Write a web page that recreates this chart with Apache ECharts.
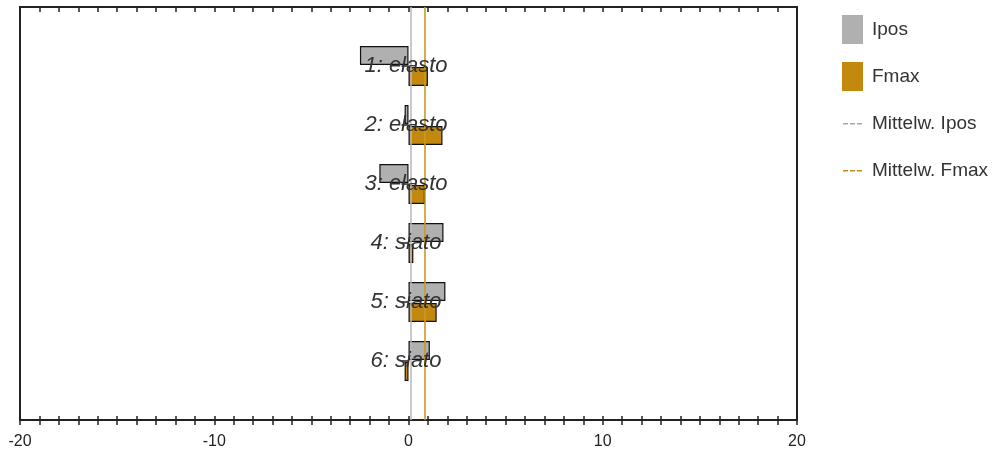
<!DOCTYPE html>
<html>
<head>
<meta charset="utf-8">
<script src="https://cdn.jsdelivr.net/npm/echarts@6/dist/echarts.min.js"></script>
<style>
  html, body { margin: 0; padding: 0; background: #fff; }
  #chart { width: 1005px; height: 460px; }
</style>
</head>
<body>
<div id="chart"></div>
<script>
// Test specimens, top to bottom
const categories = ['1: elasto', '2: elasto', '3: elasto', '4: siato', '5: siato', '6: siato'];
// Measured values per specimen
const iposValues = [-2.5, -0.2, -1.5, 1.8, 1.9, 1.1];
const fmaxValues = [1.0, 1.75, 0.85, 0.25, 1.45, -0.2];
// Horizontal axis range and label step
const xMin = -20;
const xMax = 20;
const xLabelStep = 10;

const mean = arr => arr.reduce((s, v) => s + v, 0) / arr.length;
const iposMean = mean(iposValues);
const fmaxMean = mean(fmaxValues);

// One empty slot above and below the specimens keeps them off the frame
const yCats = [''].concat(categories, ['']);
const pad = arr => [null].concat(arr, [null]);

const GRAY = '#b0b0b0';
const GOLD = '#c3890f';
const FONT = '"Liberation Sans", Arial, sans-serif';

const dashIcon = 'path://M0,0h0.01v0.01h-0.01z M1,14h5v1.4h-5z M8,14h5v1.4h-5z M15,14h5v1.4h-5z M20.99,28.99h0.01v0.01h-0.01z';

const chart = echarts.init(document.getElementById('chart'), null, { renderer: 'canvas' });

const baseX = {
  type: 'value', min: xMin, max: xMax, interval: 1,
  splitLine: { show: false },
  axisLine: { show: false }
};

chart.setOption({
  animation: false,
  backgroundColor: '#fff',
  textStyle: { fontFamily: FONT },
  grid: {
    left: 20, right: 208, top: 7, bottom: 40,
    show: true, borderColor: '#222', borderWidth: 2, backgroundColor: 'transparent'
  },
  legend: {
    orient: 'vertical', left: 842, top: 15, padding: 0,
    itemWidth: 21, itemHeight: 29, itemGap: 18,
    selectedMode: false,
    itemStyle: { borderWidth: 0 },
    textStyle: { fontSize: 19, color: '#333', fontFamily: FONT, padding: [0, 0, 0, 4] },
    data: [
      { name: 'Ipos', icon: 'rect' },
      { name: 'Fmax', icon: 'rect' },
      { name: 'Mittelw. Ipos', icon: dashIcon },
      { name: 'Mittelw. Fmax', icon: dashIcon }
    ]
  },
  xAxis: [
    Object.assign({}, baseX, {
      position: 'bottom',
      axisLine: { show: true, onZero: false, lineStyle: { color: '#222', width: 2 } },
      axisTick: { show: true, inside: false, length: 5, lineStyle: { color: '#222', width: 1.5 } },
      axisLabel: {
        show: true, margin: 14, fontSize: 16, color: '#222', fontFamily: FONT,
        formatter: v => (v % xLabelStep === 0 ? String(v) : '')
      }
    }),
    Object.assign({}, baseX, {
      position: 'bottom',
      axisTick: { show: true, inside: true, length: 4, lineStyle: { color: '#222', width: 1.5 } },
      axisLabel: { show: false }
    }),
    Object.assign({}, baseX, {
      position: 'top',
      axisTick: { show: true, inside: true, length: 5, lineStyle: { color: '#222', width: 1.5 } },
      axisLabel: { show: false }
    })
  ],
  yAxis: {
    type: 'category', data: yCats, inverse: true, boundaryGap: false,
    position: 'right',
    z: 10,
    axisLine: { show: false },
    splitLine: { show: false },
    axisTick: { show: true, inside: true, length: 7, lineStyle: { color: '#222', width: 1.5 } },
    axisLabel: {
      show: true, inside: true, margin: 391, align: 'center',
      fontSize: 22, fontStyle: 'italic', color: '#333', fontFamily: FONT
    }
  },
  series: [
    {
      name: 'Ipos', type: 'bar', data: pad(iposValues),
      barWidth: 19, barGap: '10%',
      itemStyle: { color: GRAY, borderColor: '#111', borderWidth: 1.2 },
      z: 2
    },
    {
      name: 'Fmax', type: 'bar', data: pad(fmaxValues),
      barWidth: 19, barGap: '10%',
      itemStyle: { color: GOLD, borderColor: '#111', borderWidth: 1.2 },
      z: 2
    },
    {
      name: 'Mittelw. Ipos', type: 'line', data: [],
      itemStyle: { color: '#a8a8a8' }, lineStyle: { color: '#a8a8a8' },
      markLine: {
        silent: true, symbol: 'none', label: { show: false },
        lineStyle: { color: '#b8b8b8', width: 1.5, type: 'solid' },
        data: [{ xAxis: iposMean }]
      },
      z: 1
    },
    {
      name: 'Mittelw. Fmax', type: 'line', data: [],
      itemStyle: { color: '#c38a12' }, lineStyle: { color: '#c38a12' },
      markLine: {
        silent: true, symbol: 'none', label: { show: false },
        lineStyle: { color: '#c99a22', width: 1.6, type: 'solid' },
        data: [{ xAxis: fmaxMean }]
      },
      z: 3
    }
  ]
});
</script>
</body>
</html>
